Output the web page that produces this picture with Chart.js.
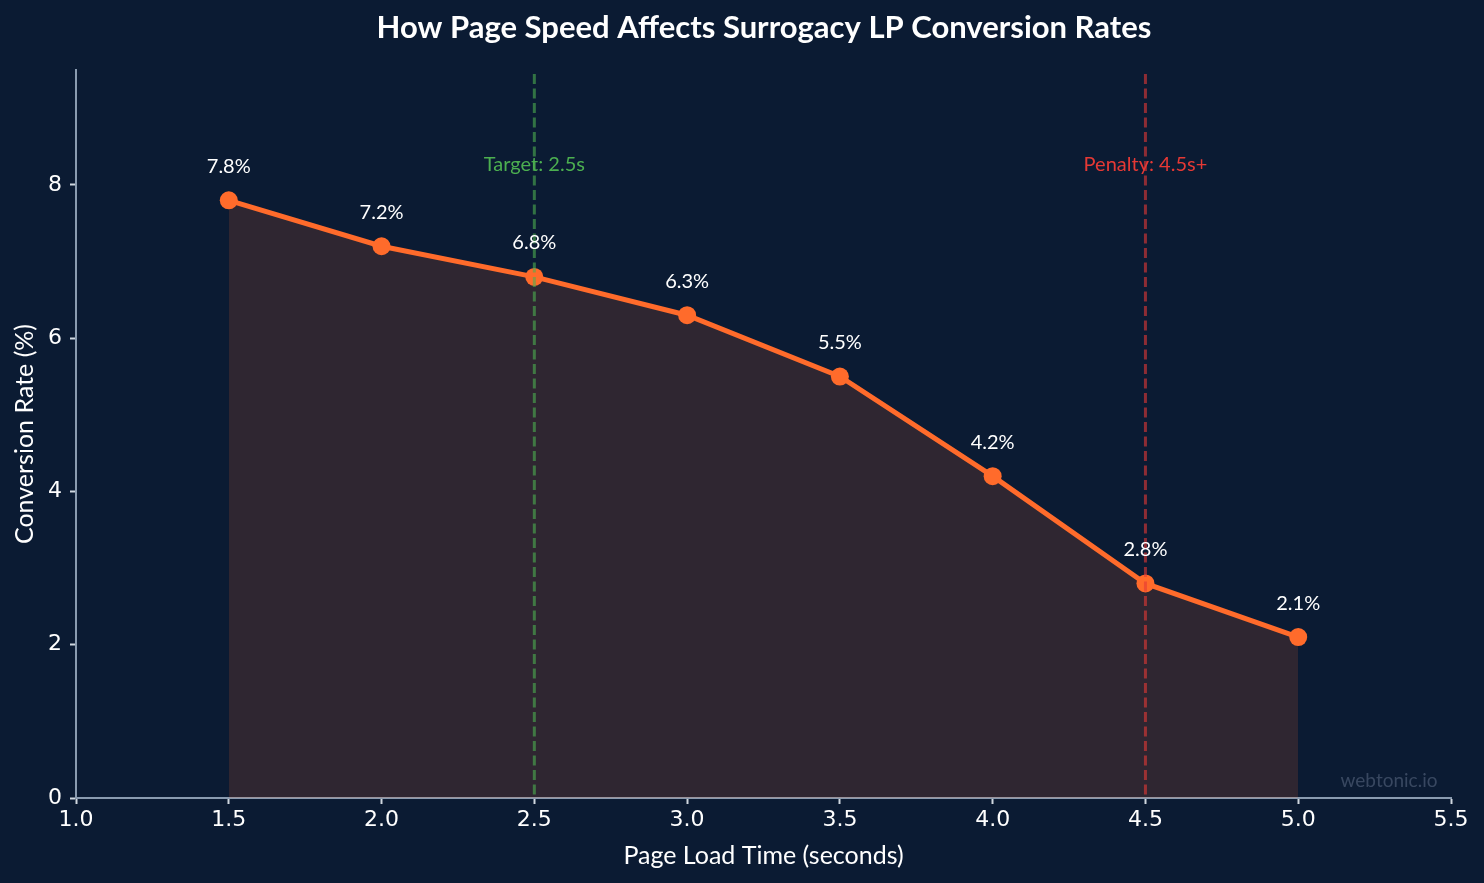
<!DOCTYPE html>
<html><head><meta charset="utf-8">
<script src="https://cdn.jsdelivr.net/npm/chart.js@4.4.1/dist/chart.umd.min.js"></script>
<style>html,body{margin:0;padding:0;background:#0b1b33;}#wrap{width:1484px;height:883px;}</style>
</head><body><div id="wrap"><canvas id="c" width="1484" height="883"></canvas></div>
<script>
const loadTimes = [1.5, 2.0, 2.5, 3.0, 3.5, 4.0, 4.5, 5.0];
const conversionRates = [7.8, 7.2, 6.8, 6.3, 5.5, 4.2, 2.8, 2.1];
const pointLabels = ['7.8%', '7.2%', '6.8%', '6.3%', '5.5%', '4.2%', '2.8%', '2.1%'];
const yTicks = [0, 2, 4, 6, 8];
const markers = [
  { x: 2.5, label: 'Target: 2.5s', y: 8.27, color: 'rgba(76,175,80,0.6)', textColor: '#4caf50' },
  { x: 4.5, label: 'Penalty: 4.5s+', y: 8.27, color: 'rgba(229,57,53,0.6)', textColor: '#e53935' }
];
const titleText = 'How Page Speed Affects Surrogacy LP Conversion Rates';
const xTitle = 'Page Load Time (seconds)';
const yTitle = 'Conversion Rate (%)';

const BG = '#0b1b33';
const ORANGE = '#ff6b2b';
const AXIS = '#8a9bb0';

const overlay = {
  id: 'overlay',
  beforeDraw(chart) {
    const ctx = chart.ctx;
    ctx.save();
    ctx.fillStyle = BG;
    ctx.fillRect(0, 0, chart.width, chart.height);
    ctx.restore();
  },
  afterDatasetsDraw(chart) {
    const ctx = chart.ctx, xs = chart.scales.x, ys = chart.scales.y, a = chart.chartArea;
    ctx.save();
    markers.forEach(m => {
      const px = xs.getPixelForValue(m.x);
      ctx.strokeStyle = m.color;
      ctx.lineWidth = 3;
      ctx.setLineDash([10, 4.5]);
      ctx.beginPath();
      ctx.moveTo(px, a.top + 4);
      ctx.lineTo(px, a.bottom);
      ctx.stroke();
    });
    ctx.setLineDash([]);
    markers.forEach(m => {
      ctx.fillStyle = m.textColor;
      ctx.font = '20px Lato';
      ctx.textAlign = 'center';
      ctx.textBaseline = 'middle';
      ctx.fillText(m.label, xs.getPixelForValue(m.x), ys.getPixelForValue(m.y));
    });
    ctx.fillStyle = '#ffffff';
    ctx.font = '20px Lato';
    ctx.textAlign = 'center';
    ctx.textBaseline = 'middle';
    loadTimes.forEach((t, i) => {
      ctx.fillText(pointLabels[i], xs.getPixelForValue(t), ys.getPixelForValue(conversionRates[i]) - 34);
    });
    ctx.font = 'bold 31px Lato';
    ctx.fillStyle = '#ffffff';
    ctx.fillText(titleText, 764, 28);
    ctx.font = '19px Lato';
    ctx.fillStyle = 'rgba(140,155,180,0.35)';
    ctx.fillText('webtonic.io', 1389, 781);
    ctx.restore();
  }
};

new Chart(document.getElementById('c'), {
  type: 'line',
  data: {
    datasets: [{
      data: loadTimes.map((t, i) => ({ x: t, y: conversionRates[i] })),
      borderColor: ORANGE,
      borderWidth: 5,
      pointRadius: 9,
      pointHoverRadius: 9,
      pointBackgroundColor: ORANGE,
      pointBorderWidth: 0,
      fill: 'origin',
      backgroundColor: 'rgba(255,107,43,0.15)',
      tension: 0
    }]
  },
  options: {
    responsive: false,
    animation: false,
    events: [],
    layout: { padding: { top: 70, right: 33, left: 0, bottom: 0 } },
    plugins: { legend: { display: false }, tooltip: { enabled: false }, title: { display: false } },
    scales: {
      x: {
        type: 'linear',
        min: 1.0, max: 5.5,
        afterFit(s) { s.height = 85; },
        ticks: { stepSize: 0.5, color: '#ffffff', font: { family: 'DejaVu Sans', size: 22 }, padding: 3,
                 callback: v => Number(v).toFixed(1), maxRotation: 0 },
        grid: { display: true, drawOnChartArea: false, drawTicks: true, tickLength: 6, tickColor: '#d0d8e0', tickWidth: 2 },
        border: { display: true, color: AXIS, width: 2 },
        title: { display: true, text: xTitle, color: '#ffffff', font: { family: 'Lato', size: 25 }, padding: { top: 0, bottom: 12 } }
      },
      y: {
        type: 'linear',
        min: 0, max: 9.5,
        afterFit(s) { s.width = 76; },
        afterBuildTicks(s) { s.ticks = yTicks.map(v => ({ value: v })); },
        ticks: { color: '#ffffff', font: { family: 'DejaVu Sans', size: 22 }, padding: 8, includeBounds: false },
        grid: { display: true, drawOnChartArea: false, drawTicks: true, tickLength: 6, tickColor: '#d0d8e0', tickWidth: 2 },
        border: { display: true, color: AXIS, width: 2 },
        title: { display: true, text: yTitle, color: '#ffffff', font: { family: 'Lato', size: 25 }, padding: { top: 10, bottom: 0 } }
      }
    }
  },
  plugins: [overlay]
});
</script></body></html>
